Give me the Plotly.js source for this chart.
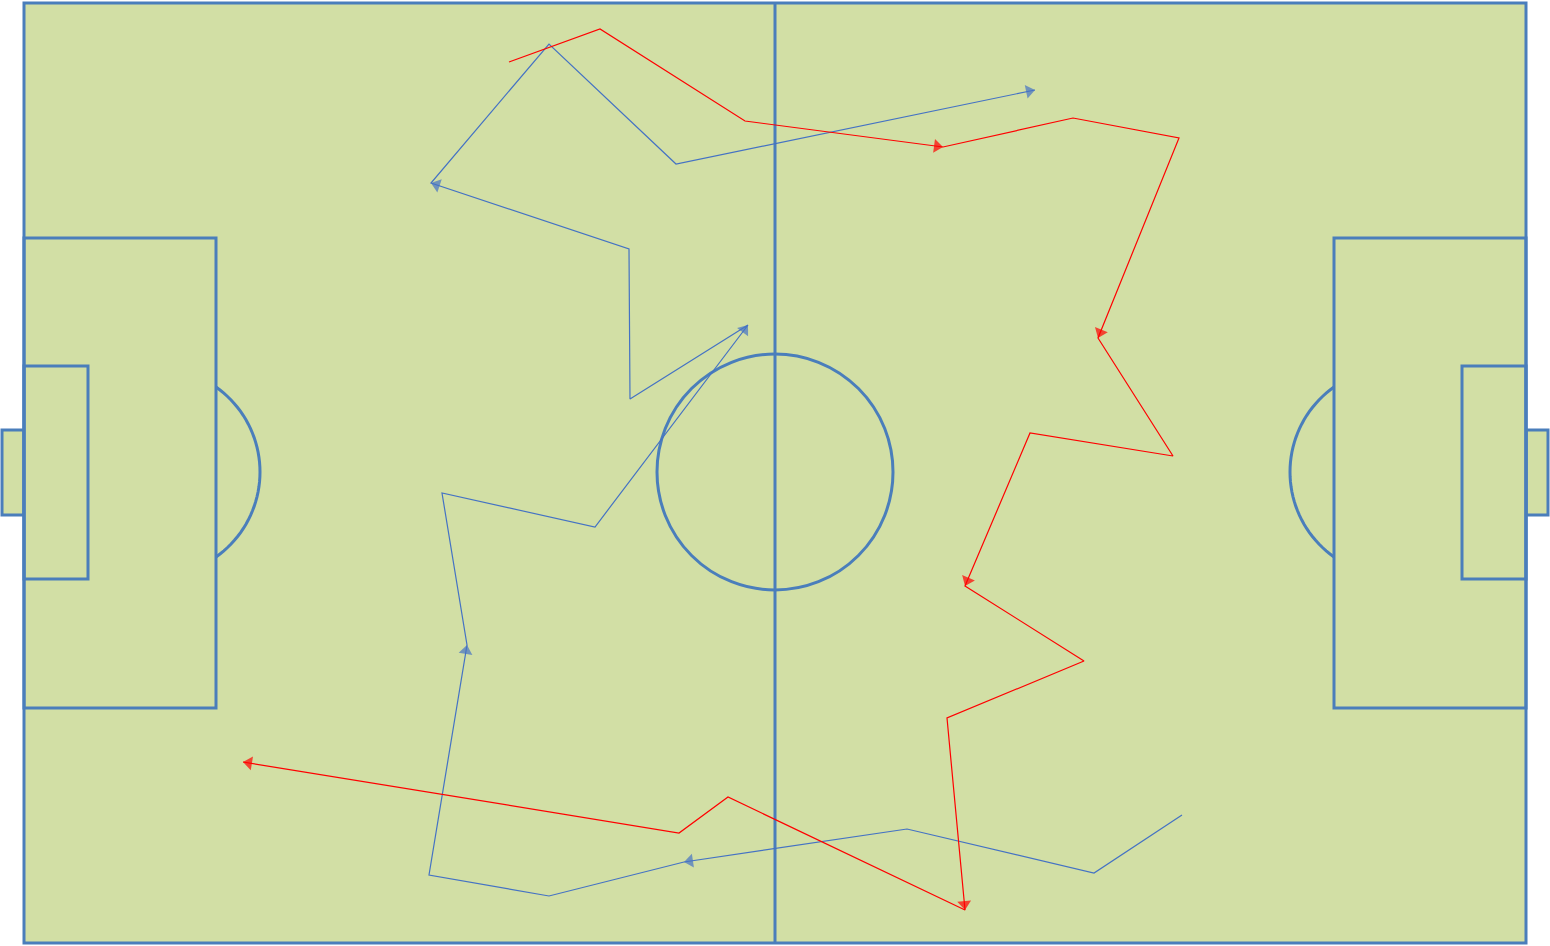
<!DOCTYPE html>
<html>
<head>
<meta charset="utf-8">
<script src="https://cdn.plot.ly/plotly-3.0.1.min.js"></script>
<style>
  html, body { margin: 0; padding: 0; background: #fff; }
  #pitch-plot { width: 1550px; height: 946px; }
</style>
</head>
<body>
<div id="pitch-plot"></div>
<script>
/* Two movement paths drawn over a pitch (image pixel units, y down) */
var blueX = [1182, 1094, 907, 684, 549, 429, 467, 442, 595, 748, 630, 629, 431, 549, 676, 1035];
var blueY = [815, 873, 829, 862, 896, 875, 645, 493, 527, 325, 399, 249, 183, 44, 164, 90];
var redX = [509, 600, 745, 943, 1073, 1179, 1098, 1173, 1030, 965, 1084, 947, 965, 728, 679, 243];
var redY = [62, 29, 121, 147, 118, 138, 338, 456, 433, 586, 661, 718, 910, 797, 833, 762];
var arrowAt = [3, 6, 9, 12, 15]; // points that carry an arrowhead

var pitchLine = '#4a7ebb';
var grass = '#d2dfa5';

// pitch geometry (note: "top" is reserved on window, so pX/pY names)
var W = 1550, H = 946;
var pX0 = 24, pX1 = 1526, pY0 = 3, pY1 = 943;
var midX = (pX0 + pX1) / 2, midY = 472;

function rect(x0, x1, y0, y1, fill) {
    return {type: 'rect', layer: 'below', x0: x0, x1: x1, y0: y0, y1: y1,
            fillcolor: fill || 'rgba(0,0,0,0)', line: {color: pitchLine, width: 3}};
}
function arcPath(cx, R, xCut, side) { // part of circle beyond the penalty box edge
    let a = Math.acos(Math.abs(xCut - cx) / R);
    let n = 40;
    let p = '';
    for (let i = 0; i <= n; i++) {
        let t = -a + 2 * a * i / n;
        let x = cx + side * R * Math.cos(t);
        let y = midY + R * Math.sin(t);
        p += (i === 0 ? 'M' : 'L') + x.toFixed(2) + ',' + y.toFixed(2);
    }
    return {type: 'path', layer: 'below', path: p, line: {color: pitchLine, width: 3}};
}

var shapes = [
    rect(2, pX0, 430, 515, grass),
    rect(pX1, 1548, 430, 515, grass),
    rect(pX0, pX1, pY0, pY1, grass),
    {type: 'line', layer: 'below', x0: midX, x1: midX, y0: pY0, y1: pY1, line: {color: pitchLine, width: 3}},
    {type: 'circle', layer: 'below', x0: midX - 118, x1: midX + 118, y0: midY - 118, y1: midY + 118, line: {color: pitchLine, width: 3}},
    rect(pX0, 216, 238, 708),
    rect(pX0, 88, 366, 579),
    rect(1334, pX1, 238, 708),
    rect(1462, pX1, 366, 579),
    arcPath(156, 104, 216, 1),
    arcPath(1394, 104, 1334, -1)
];

var headSize = 12;
function arrowSizes(n) {
    let s = [];
    for (let i = 0; i < n; i++) s.push(arrowAt.indexOf(i) >= 0 ? headSize : 0);
    return s;
}

function pathTrace(xs, ys, color) {
    return {
        x: xs,
        y: ys,
        mode: 'lines+markers',
        type: 'scatter',
        line: {color: color, width: 1.2, backoff: 0},
        // triangle pointing along travel, pulled back so its tip sits on the vertex
        marker: {symbol: 'triangle-up', angleref: 'previous', standoff: headSize / 2,
                 size: arrowSizes(xs.length), color: color, line: {width: 0}},
        hoverinfo: 'skip'
    };
}

var traceBlue = pathTrace(blueX, blueY, '#4472c4');
var traceRed = pathTrace(redX, redY, '#ff0000');

var layout = {
    width: W,
    height: H,
    margin: {t: 0, r: 0, l: 0, b: 0},
    paper_bgcolor: '#ffffff',
    plot_bgcolor: '#ffffff',
    showlegend: false,
    xaxis: {range: [0, W], visible: false, fixedrange: true},
    yaxis: {range: [H, 0], visible: false, fixedrange: true},
    shapes: shapes
};
Plotly.newPlot('pitch-plot', [traceBlue, traceRed], layout, {displayModeBar: false, staticPlot: true});
</script>
</body>
</html>
